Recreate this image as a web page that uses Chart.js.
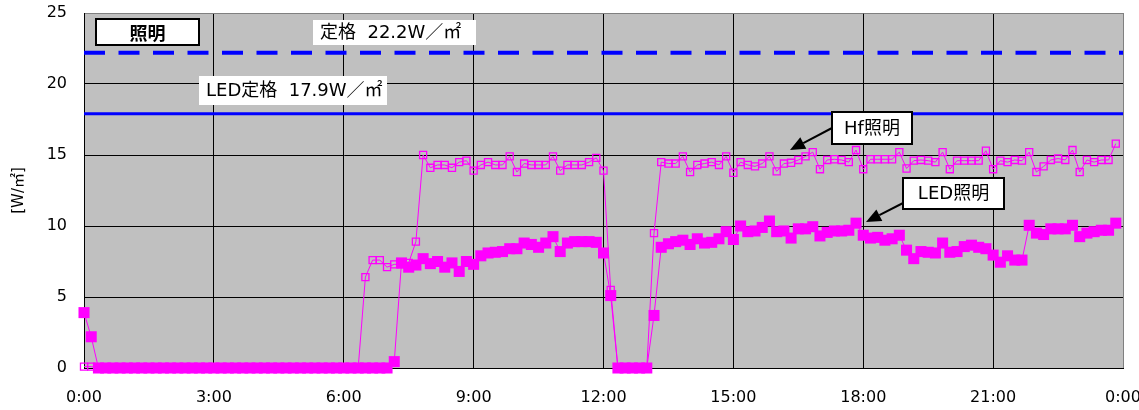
<!DOCTYPE html>
<html>
<head>
<meta charset="utf-8">
<script src="https://cdn.jsdelivr.net/npm/chart.js@4.4.1/dist/chart.umd.min.js"></script>
<style>
  html, body { margin: 0; padding: 0; background: #ffffff; }
  #wrap { width: 1139px; height: 410px; position: relative; }
</style>
</head>
<body>
<div id="wrap"><canvas id="chart"></canvas></div>
<script>
// Sampling interval of the logger, minutes
const stepMinutes = 10;

// Hf lighting load, W/㎡, 0:00 – 23:50 (one row = 2 hours)
const hfLighting = [
  0.1, 0.1, 0, 0, 0, 0, 0, 0, 0, 0, 0, 0,
  0, 0, 0, 0, 0, 0, 0, 0, 0, 0, 0, 0,
  0, 0, 0, 0, 0, 0, 0, 0, 0, 0, 0, 0,
  0, 0, 0, 6.4, 7.6, 7.6, 7.1, 7.3, 7.3, 7.4, 8.9, 15.0,
  14.1, 14.3, 14.3, 14.1, 14.5, 14.6, 13.9, 14.3, 14.5, 14.3, 14.3, 14.9,
  13.8, 14.4, 14.3, 14.3, 14.3, 14.9, 13.9, 14.3, 14.3, 14.3, 14.5, 14.8,
  13.9, 5.5, 0, 0, 0, 0, 0, 9.5, 14.5, 14.4, 14.4, 14.9,
  13.8, 14.3, 14.4, 14.5, 14.3, 14.9, 13.75, 14.5, 14.3, 14.2, 14.4, 14.9,
  13.85, 14.4, 14.45, 14.65, 14.9, 15.2, 14.0, 14.65, 14.7, 14.65, 14.5, 15.35,
  14.0, 14.7, 14.7, 14.7, 14.7, 15.2, 14.05, 14.6, 14.65, 14.6, 14.5, 15.2,
  14.0, 14.6, 14.6, 14.6, 14.6, 15.3, 14.0, 14.6, 14.5, 14.65, 14.6, 15.2,
  13.8, 14.2, 14.65, 14.75, 14.65, 15.35, 13.8, 14.65, 14.5, 14.65, 14.65, 15.8
];

// LED lighting load, W/㎡, 0:00 – 23:50 (one row = 2 hours)
const ledLighting = [
  3.9, 2.2, 0, 0, 0, 0, 0, 0, 0, 0, 0, 0,
  0, 0, 0, 0, 0, 0, 0, 0, 0, 0, 0, 0,
  0, 0, 0, 0, 0, 0, 0, 0, 0, 0, 0, 0,
  0, 0, 0, 0, 0, 0, 0, 0.45, 7.4, 7.1, 7.25, 7.7,
  7.35, 7.5, 7.1, 7.4, 6.8, 7.5, 7.3, 7.9, 8.1, 8.15, 8.2, 8.4,
  8.4, 8.8, 8.7, 8.5, 8.8, 9.25, 8.2, 8.8, 8.9, 8.9, 8.9, 8.85,
  8.1, 5.1, 0, 0, 0, 0, 0, 3.7, 8.5, 8.75, 8.9, 9.0,
  8.7, 9.1, 8.8, 8.85, 9.1, 9.6, 9.05, 10.0, 9.6, 9.65, 9.9, 10.35,
  9.6, 9.65, 9.15, 9.8, 9.8, 9.95, 9.3, 9.55, 9.65, 9.65, 9.7, 10.2,
  9.35, 9.15, 9.2, 9.0, 9.1, 9.35, 8.3, 7.7, 8.2, 8.15, 8.1, 8.8,
  8.15, 8.2, 8.55, 8.65, 8.5, 8.4, 7.95, 7.45, 7.9, 7.6, 7.6, 10.05,
  9.5, 9.4, 9.8, 9.8, 9.8, 10.05, 9.25, 9.5, 9.6, 9.7, 9.7, 10.2
];

// Rated loads, W/㎡
const ratedHf = 22.2;
const ratedLed = 17.9;

// Axis ticks
const xTickLabels = ['0:00', '3:00', '6:00', '9:00', '12:00', '15:00', '18:00', '21:00', '0:00'];
const xTickStepMinutes = 180;
const dayMinutes = 1440;
const yMax = 25;
const yStep = 5;

const toPoints = (values) => values.map((v, i) => ({ x: i * stepMinutes, y: v }));
const flatLine = (v) => [{ x: 0, y: v }, { x: dayMinutes, y: v }];

const MAGENTA = '#FF00FF';
const BLUE = '#0000FF';
const tickFont = { family: '"DejaVu Sans", "Noto Sans CJK JP", sans-serif', size: 16 };
const labelFont = '18px "DejaVu Sans", "Noto Sans CJK JP", sans-serif';

// Grey plot area
const plotBackground = {
  id: 'plotBackground',
  beforeDraw(chart) {
    const { ctx, chartArea: a } = chart;
    ctx.save();
    ctx.fillStyle = '#C0C0C0';
    ctx.fillRect(a.left, a.top, a.right - a.left, a.bottom - a.top);
    ctx.restore();
  }
};

// Text boxes and arrows drawn on top of the plot
const annotate = {
  id: 'annotate',
  afterDraw(chart) {
    const { ctx } = chart;
    const box = (x1, y1, x2, y2, text, font, bordered, align) => {
      ctx.save();
      ctx.fillStyle = '#FFFFFF';
      ctx.fillRect(x1, y1, x2 - x1, y2 - y1);
      if (bordered) {
        ctx.strokeStyle = '#000000';
        ctx.lineWidth = 2;
        ctx.strokeRect(x1, y1, x2 - x1, y2 - y1);
      }
      ctx.fillStyle = '#000000';
      ctx.font = font;
      ctx.textBaseline = 'middle';
      if (align === 'left') {
        ctx.textAlign = 'left';
        ctx.fillText(text, x1 + 7, (y1 + y2) / 2 + 1);
      } else {
        ctx.textAlign = 'center';
        ctx.fillText(text, (x1 + x2) / 2, (y1 + y2) / 2 + 1);
      }
      ctx.restore();
    };
    const arrow = (x1, y1, x2, y2) => {
      const ang = Math.atan2(y2 - y1, x2 - x1);
      const len = 15, half = 6.5;
      const bx = x2 - len * Math.cos(ang), by = y2 - len * Math.sin(ang);
      ctx.save();
      ctx.strokeStyle = '#000000';
      ctx.fillStyle = '#000000';
      ctx.lineWidth = 2;
      ctx.beginPath();
      ctx.moveTo(x1, y1);
      ctx.lineTo(bx, by);
      ctx.stroke();
      ctx.beginPath();
      ctx.moveTo(x2, y2);
      ctx.lineTo(bx + half * Math.sin(ang), by - half * Math.cos(ang));
      ctx.lineTo(bx - half * Math.sin(ang), by + half * Math.cos(ang));
      ctx.closePath();
      ctx.fill();
      ctx.restore();
    };

    box(96, 19, 199, 45, '照明', 'bold 18px "Noto Sans CJK JP", sans-serif', true);
    box(313, 20, 476, 45, '定格  ' + ratedHf.toFixed(1) + 'W／㎡', labelFont, false, 'left');
    box(199, 76, 387, 105, 'LED定格  ' + ratedLed.toFixed(1) + 'W／㎡', labelFont, false, 'left');

    arrow(832, 128, 790, 150);
    box(832, 112, 912, 144, 'Hf照明', labelFont, true);
    arrow(907, 201, 866, 222);
    box(903, 178, 1004, 209, 'LED照明', labelFont, true);
  }
};

new Chart(document.getElementById('chart'), {
  type: 'line',
  data: {
    datasets: [
      {
        label: 'LED照明',
        data: toPoints(ledLighting),
        borderColor: MAGENTA,
        backgroundColor: MAGENTA,
        borderWidth: 1,
        pointStyle: 'rect',
        pointRadius: 7.8,
        pointBackgroundColor: MAGENTA,
        pointBorderWidth: 0,
        order: 1,
        clip: false
      },
      {
        label: 'Hf照明',
        data: toPoints(hfLighting),
        borderColor: MAGENTA,
        backgroundColor: 'rgba(0,0,0,0)',
        borderWidth: 1,
        pointStyle: 'rect',
        pointRadius: 5,
        pointBackgroundColor: 'rgba(0,0,0,0)',
        pointBorderColor: MAGENTA,
        pointBorderWidth: 1.3,
        order: 2,
        clip: false
      },
      {
        label: '定格',
        data: flatLine(ratedHf),
        borderColor: BLUE,
        borderWidth: 4,
        borderDash: [21, 13.5],
        pointRadius: 0,
        order: 3
      },
      {
        label: 'LED定格',
        data: flatLine(ratedLed),
        borderColor: BLUE,
        borderWidth: 3,
        pointRadius: 0,
        order: 3
      }
    ]
  },
  options: {
    responsive: true,
    maintainAspectRatio: false,
    animation: false,
    devicePixelRatio: 1,
    layout: { padding: { top: 13, right: 16, left: 0, bottom: 0 } },
    elements: { line: { tension: 0 } },
    plugins: { legend: { display: false }, tooltip: { enabled: false } },
    scales: {
      x: {
        type: 'linear',
        min: 0,
        max: dayMinutes,
        afterBuildTicks: (s) => {
          s.ticks = xTickLabels.map((_, k) => ({ value: k * xTickStepMinutes }));
        },
        ticks: {
          autoSkip: false,
          maxRotation: 0,
          color: '#000000',
          font: tickFont,
          padding: 20,
          callback: (v) => xTickLabels[Math.round(v / xTickStepMinutes)]
        },
        grid: {
          drawTicks: false,
          lineWidth: 1,
          color: (c) => (c.tick && c.tick.value === dayMinutes ? '#808080' : '#000000')
        },
        border: { color: '#000000', width: 1 },
        afterFit: (s) => {
          s.height = 42;
          s.paddingLeft = 0;
          s.paddingRight = 0;
        }
      },
      y: {
        min: 0,
        max: yMax,
        ticks: {
          stepSize: yStep,
          color: '#000000',
          font: tickFont,
          padding: 17
        },
        grid: {
          drawTicks: false,
          lineWidth: 1,
          color: (c) => (c.tick && c.tick.value === yMax ? '#808080' : '#000000')
        },
        border: { color: '#000000', width: 1 },
        title: {
          display: true,
          text: '[W/㎡]',
          color: '#000000',
          font: { family: '"DejaVu Sans", "Noto Sans CJK JP", sans-serif', size: 15 },
          padding: { top: 10, bottom: 0 }
        },
        afterFit: (s) => {
          s.width = 84;
          s.paddingTop = 0;
          s.paddingBottom = 0;
        }
      }
    }
  },
  plugins: [plotBackground, annotate]
});
</script>
</body>
</html>
